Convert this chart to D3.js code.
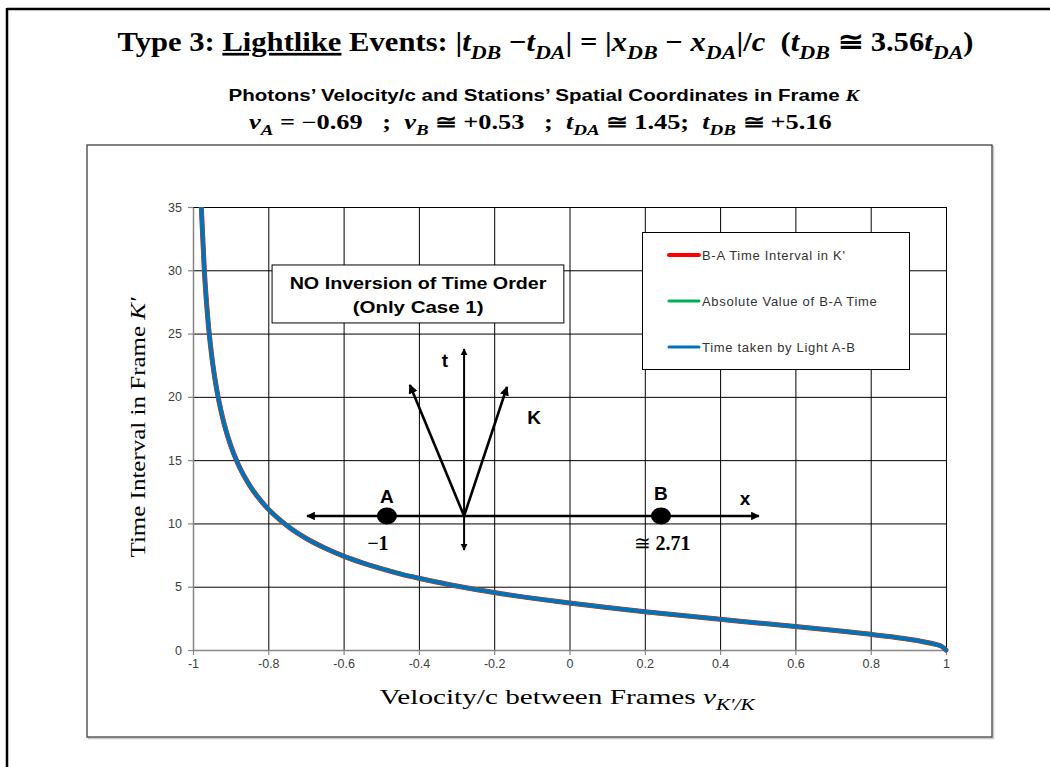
<!DOCTYPE html>
<html>
<head>
<meta charset="utf-8">
<script src="https://cdn.jsdelivr.net/npm/d3@7"></script>
<style>
body{margin:0;background:#fff}
svg{display:block}
</style>
</head>
<body>
<svg id="chart" width="1050" height="767"></svg>
<script>
// values: velocity/c between frames and the time intervals in K'
var velocity    = [-0.978,-0.97,-0.96,-0.95,-0.94,-0.92,-0.90,-0.88,-0.85,-0.82,-0.80,-0.75,-0.70,-0.65,-0.60,-0.55,-0.50,-0.45,-0.40,-0.35,-0.30,-0.20,-0.10,0,0.10,0.20,0.30,0.40,0.50,0.60,0.70,0.80,0.85,0.90,0.94,0.97,0.99,1.0];
var intervalK   = [35.0,30.06,25.97,23.17,21.10,18.18,16.17,14.68,13.03,11.80,11.13,9.82,8.83,8.06,7.42,6.89,6.43,6.02,5.67,5.35,5.06,4.54,4.10,3.71,3.36,3.03,2.72,2.43,2.14,1.86,1.56,1.24,1.06,0.85,0.65,0.46,0.26,0];
var absInterval = [35.0,30.06,25.97,23.17,21.10,18.18,16.17,14.68,13.03,11.80,11.13,9.82,8.83,8.06,7.42,6.89,6.43,6.02,5.67,5.35,5.06,4.54,4.10,3.71,3.36,3.03,2.72,2.43,2.14,1.86,1.56,1.24,1.06,0.85,0.65,0.46,0.26,0];
var lightTime   = [35.0,30.06,25.97,23.17,21.10,18.18,16.17,14.68,13.03,11.80,11.13,9.82,8.83,8.06,7.42,6.89,6.43,6.02,5.67,5.35,5.06,4.54,4.10,3.71,3.36,3.03,2.72,2.43,2.14,1.86,1.56,1.24,1.06,0.85,0.65,0.46,0.26,0];

var xTicks = [-1,-0.8,-0.6,-0.4,-0.2,0,0.2,0.4,0.6,0.8,1];
var yTicks = [0,5,10,15,20,25,30,35];

var seriesNames  = ["B-A Time Interval in K'", "Absolute Value of B-A Time", "Time taken by Light A-B"];
var seriesColors = ["#ff0000", "#00b050", "#0070c0"];

var svg = d3.select("#chart");

// slide frame (only top and left edges show)
svg.append("line").attr("x1",7).attr("y1",9).attr("x2",1050).attr("y2",9)
  .attr("stroke","#000").attr("stroke-width",2.5);
svg.append("line").attr("x1",7).attr("y1",8).attr("x2",7).attr("y2",767)
  .attr("stroke","#000").attr("stroke-width",2.5);

// stretch a text horizontally so it spans w px centred on cx
function fit(t, cx, y, w){
  var bb = t.node().getBBox();
  var k = w / bb.width;
  t.attr("transform","translate(" + (cx - k*(bb.x + bb.width/2)) + "," + y + ") scale(" + k + ",1)");
}

// mixed text: parts have t (text), i (italic), s (subscript), u (underline), f (family), w (weight)
function richText(g, parts, size, family, weight){
  var t = g.append("text").attr("x",0).attr("y",0)
    .style("white-space","pre")
    .style("font-size", size + "px").style("font-family", family).style("font-weight", weight)
    .attr("fill","#000");
  var inSub = false;
  parts.forEach(function(p){
    var ts = t.append("tspan").text(p.t);
    if (p.i) ts.style("font-style","italic");
    if (p.u) ts.style("text-decoration","underline");
    if (p.f) ts.style("font-family", p.f);
    if (p.w) ts.style("font-weight", p.w);
    if (p.s && !inSub){ ts.attr("dy", size*0.28); inSub = true; }
    else if (!p.s && inSub){ ts.attr("dy", -size*0.28); inSub = false; }
    if (p.s) ts.style("font-size", (size*0.72) + "px");
  });
  return t;
}

var serif = "'Liberation Serif','DejaVu Serif',serif";
var sans = "'Liberation Sans',Arial,sans-serif";

// main title
var title = richText(svg, [
  {t:"Type 3: "}, {t:"Lightlike", u:true}, {t:" Events: |"},
  {t:"t", i:true}, {t:"DB", i:true, s:true}, {t:" \u2212"}, {t:"t", i:true}, {t:"DA", i:true, s:true},
  {t:"| = |"}, {t:"x", i:true}, {t:"DB", i:true, s:true}, {t:" \u2212 "}, {t:"x", i:true}, {t:"DA", i:true, s:true},
  {t:"|/"}, {t:"c", i:true}, {t:"  ("}, {t:"t", i:true}, {t:"DB", i:true, s:true},
  {t:" \u2245 3.56"}, {t:"t", i:true}, {t:"DA", i:true, s:true}, {t:")"}
], 27, serif, "bold");
fit(title, 546, 51, 857);

var sub1 = richText(svg, [
  {t:"Photons\u2019 Velocity/c and Stations\u2019 Spatial Coordinates in Frame "},
  {t:"K", i:true, f:serif}
], 17, sans, "bold");
fit(sub1, 545, 101, 633);

var sub2 = richText(svg, [
  {t:"v", i:true}, {t:"A", i:true, s:true}, {t:" = \u22120.69   ;  "},
  {t:"v", i:true}, {t:"B", i:true, s:true}, {t:" \u2245 +0.53   ;  "},
  {t:"t", i:true}, {t:"DA", i:true, s:true}, {t:" \u2245 1.45;  "},
  {t:"t", i:true}, {t:"DB", i:true, s:true}, {t:" \u2245 +5.16"}
], 20, serif, "bold");
fit(sub2, 542, 129, 586);

// chart area box
svg.append("rect").attr("x",88.5).attr("y",146.5).attr("width",905).attr("height",592)
  .attr("fill","none").attr("stroke","#c8c8c8").attr("stroke-width",1.5);
svg.append("rect").attr("x",87).attr("y",145).attr("width",905).attr("height",592)
  .attr("fill","#fff").attr("stroke","#404040").attr("stroke-width",1.3);

// scales
var x = d3.scaleLinear().domain([-1,1]).range([193,946]);
var y = d3.scaleLinear().domain([0,35]).range([650,207]);

// gridlines
svg.append("g").attr("class","grid")
  .attr("transform","translate(0," + y(0) + ")")
  .call(d3.axisBottom(x).tickValues(xTicks).tickSize(-(y(0)-y(35))).tickFormat(""))
  .call(function(g){ g.select(".domain").remove(); g.selectAll("line").attr("stroke","#000").attr("stroke-width",1); });
svg.append("g").attr("class","grid")
  .attr("transform","translate(" + x(-1) + ",0)")
  .call(d3.axisLeft(y).tickValues(yTicks).tickSize(-(x(1)-x(-1))).tickFormat(""))
  .call(function(g){ g.select(".domain").remove(); g.selectAll("line").attr("stroke","#000").attr("stroke-width",1); });

// axes
var xAxis = svg.append("g")
  .attr("transform","translate(0," + y(0) + ")")
  .call(d3.axisBottom(x).tickValues(xTicks).tickSize(5).tickSizeOuter(0).tickPadding(4).tickFormat(function(d){ return String(d); }));
var yAxis = svg.append("g")
  .attr("transform","translate(" + x(-1) + ",0)")
  .call(d3.axisLeft(y).tickValues(yTicks).tickSize(5).tickSizeOuter(0).tickPadding(6).tickFormat(function(d){ return String(d); }));
[xAxis, yAxis].forEach(function(a){
  a.select(".domain").attr("stroke","#868686").attr("stroke-width",1.5);
  a.selectAll(".tick line").attr("stroke","#868686").attr("stroke-width",1.2);
  a.selectAll(".tick text").attr("fill","#404040").style("font-size","12.5px").style("font-family",sans);
});

// the three series
svg.append("clipPath").attr("id","plotClip").append("rect")
  .attr("x",x(-1)).attr("y",y(35)).attr("width",x(1)-x(-1)+3).attr("height",y(0)-y(35)+3);

var allSeries = [intervalK, absInterval, lightTime];
var widths = [5, 4, 3.6];
var line = d3.line()
  .x(function(d){ return x(d[0]); })
  .y(function(d){ return y(d[1]); })
  .curve(d3.curveMonotoneX);
allSeries.forEach(function(vals, i){
  svg.append("path")
    .datum(d3.zip(velocity, vals))
    .attr("clip-path","url(#plotClip)")
    .attr("fill","none")
    .attr("stroke", seriesColors[i])
    .attr("stroke-width", widths[i])
    .attr("stroke-linecap","round")
    .attr("d", line);
});

// legend
var lg = svg.append("g");
lg.append("rect").attr("x",642.5).attr("y",232.5).attr("width",267).attr("height",137)
  .attr("fill","#fff").attr("stroke","#000").attr("stroke-width",1);
seriesNames.forEach(function(name, i){
  var ly = 255 + i*46;
  lg.append("line").attr("x1",669).attr("x2",699).attr("y1",ly).attr("y2",ly)
    .attr("stroke", seriesColors[i]).attr("stroke-width", i === 0 ? 4 : 3).attr("stroke-linecap","round");
  lg.append("text").attr("x",702).attr("y",ly).attr("dy","0.35em")
    .attr("fill","#333").style("font-size","13px").style("font-family",sans)
    .style("letter-spacing","0.7px")
    .text(name);
});

// annotation box
var ann = svg.append("g");
ann.append("rect").attr("x",x(-0.790)).attr("y",y(30.42))
  .attr("width",x(-0.015)-x(-0.790)).attr("height",y(25.84)-y(30.42))
  .attr("fill","#fff").attr("stroke","#000").attr("stroke-width",1);
var a1 = ann.append("text").text("NO Inversion of Time Order")
  .style("font-size","16px").style("font-family",sans).style("font-weight","bold");
fit(a1, x(-0.402), y(29.0) + 6, 257);
var a2 = ann.append("text").text("(Only Case 1)")
  .style("font-size","16px").style("font-family",sans).style("font-weight","bold");
fit(a2, x(-0.402), y(27.1) + 6, 131);

// space-time diagram
var defs = svg.append("defs");
defs.append("marker").attr("id","arrow").attr("viewBox","0 0 10 10")
  .attr("refX",9).attr("refY",5).attr("markerWidth",3.6).attr("markerHeight",3.6)
  .attr("markerUnits","strokeWidth").attr("orient","auto-start-reverse")
  .append("path").attr("d","M0,0 L10,5 L0,10 Z").attr("fill","#000");

var diag = svg.append("g").attr("stroke","#000").attr("stroke-width",2.4).attr("fill","none");
var ox = -0.280, oy = 10.59;
diag.append("line").attr("x1",x(-0.697)).attr("y1",y(oy)).attr("x2",x(0.503)).attr("y2",y(oy))
  .attr("marker-start","url(#arrow)").attr("marker-end","url(#arrow)");
diag.append("line").attr("x1",x(ox)).attr("y1",y(7.90)).attr("x2",x(ox)).attr("y2",y(23.78))
  .attr("stroke-width",2).attr("marker-start","url(#arrow)").attr("marker-end","url(#arrow)");
diag.append("line").attr("x1",x(ox)).attr("y1",y(oy)).attr("x2",x(-0.424)).attr("y2",y(20.94))
  .attr("stroke-width",2.6).attr("marker-end","url(#arrow)");
diag.append("line").attr("x1",x(ox)).attr("y1",y(oy)).attr("x2",x(-0.166)).attr("y2",y(20.78))
  .attr("stroke-width",2.6).attr("marker-end","url(#arrow)");

[-0.485, 0.243].forEach(function(v){
  svg.append("ellipse").attr("cx",x(v)).attr("cy",y(oy)).attr("rx",10).attr("ry",8.5).attr("fill","#000");
});

var diagLabels = [
  {t:"A", v:-0.485, y:12.17},
  {t:"B", v:0.243, y:12.40},
  {t:"x", v:0.466, y:12.01},
  {t:"t", v:-0.331, y:22.91},
  {t:"K", v:-0.094, y:18.41}
];
diagLabels.forEach(function(d){
  svg.append("text").attr("x",x(d.v)).attr("y",y(d.y)).attr("dy","0.36em")
    .attr("text-anchor","middle").style("font-size","19px").style("font-family",sans)
    .style("font-weight","bold").text(d.t);
});
svg.append("text").attr("x",x(-0.509)).attr("y",y(8.45)).attr("dy","0.36em")
  .attr("text-anchor","middle").style("font-size","20px").style("font-family",serif)
  .style("font-weight","bold").text("\u22121");
var b2 = svg.append("text").attr("x",x(0.246)).attr("y",y(8.45)).attr("dy","0.36em")
  .attr("text-anchor","middle").style("font-size","20px").style("font-family",serif);
b2.append("tspan").style("font-weight","normal").text("\u2245 ");
b2.append("tspan").style("font-weight","bold").text("2.71");

// axis titles
var xt = richText(svg, [
  {t:"Velocity/c between Frames "}, {t:"v", i:true}, {t:"K\u2032/K", i:true, s:true}
], 22, serif, "normal");
fit(xt, 568, 704, 377);

var yt = richText(svg, [
  {t:"Time Interval in Frame "}, {t:"K\u2032", i:true}
], 20, serif, "normal");
var ybb = yt.node().getBBox();
var yk = 261 / ybb.width;
yt.attr("transform","translate(145," + 427 + ") rotate(-90) scale(" + yk + ",1) translate(" + (-(ybb.x + ybb.width/2)) + ",0)");
</script>
</body>
</html>
